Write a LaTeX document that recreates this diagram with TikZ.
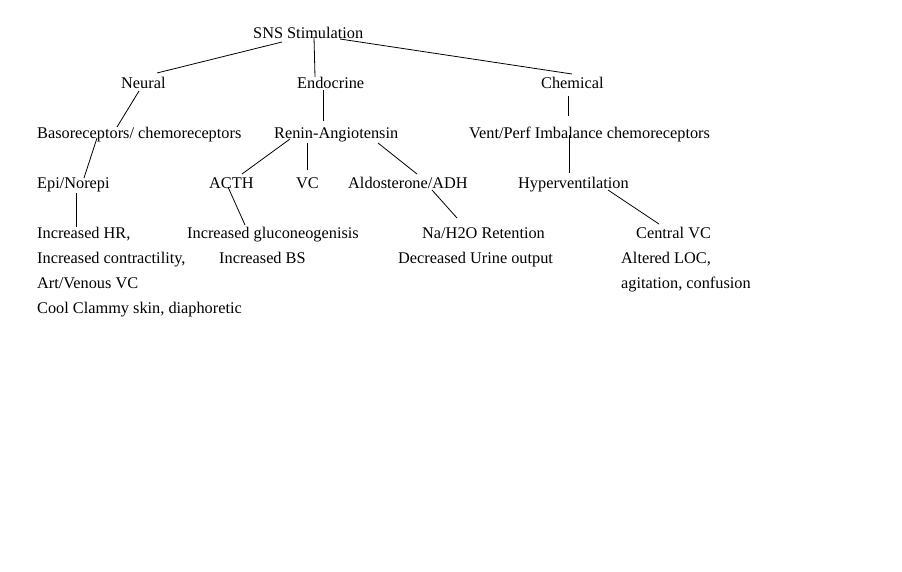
\documentclass[tikz,border=0pt]{standalone}
\usepackage{fontspec}
\setmainfont{Liberation Serif}
\usetikzlibrary{calc}
\begin{document}
\begin{tikzpicture}[x=1pt,y=-1pt,
  lbl/.style={anchor=base west,inner sep=0pt,font=\fontsize{16.3}{18}\selectfont},
  link/.style={line width=0.8pt,black}]
\useasboundingbox[fill=white] (0,0) rectangle (902,571);
% row 1
\node[lbl] (sns) at (253,38) {SNS Stimulation};
% row 2
\node[lbl] (neural) at (121,88) {Neural};
\node[lbl] (endo) at (297,88) {Endocrine};
\node[lbl] (chem) at (541,88) {Chemical};
% row 3
\node[lbl] (baso) at (37,138) {Basoreceptors/ chemoreceptors};
\node[lbl] (renin) at (274,138) {Renin-Angiotensin};
\node[lbl] (vent) at (469,138) {Vent/Perf Imbalance chemoreceptors};
% row 4
\node[lbl] (epi) at (37,188) {Epi/Norepi};
\node[lbl] (acth) at (209,188) {ACTH};
\node[lbl] (vc) at (296,188) {VC};
\node[lbl] (aldo) at (348,188) {Aldosterone/ADH};
\node[lbl] (hyper) at (518,188) {Hyperventilation};
% row 5+
\node[lbl] (hr) at (37,238) {Increased HR,};
\node[lbl] (contr) at (37,263) {Increased contractility,};
\node[lbl] (art) at (37,288) {Art/Venous VC};
\node[lbl] (cool) at (37,313) {Cool Clammy skin, diaphoretic};
\node[lbl] (gluco) at (187,238) {Increased gluconeogenisis};
\node[lbl] (bs) at (219,263) {Increased BS};
\node[lbl] (na) at (422,238) {Na/H2O Retention};
\node[lbl] (urine) at (398,263) {Decreased Urine output};
\node[lbl] (central) at (636,238) {Central VC};
\node[lbl] (loc) at (621,263) {Altered LOC,};
\node[lbl] (agit) at (621,288) {agitation, confusion};
% connectors
\draw[link] ($(sns.base west)+(29,4)$) -- ($(neural.base west)+(36,-15)$);
\draw[link] ($(sns.base west)+(61,-1)$) -- ($(endo.base west)+(18,-11)$);
\draw[link] ($(sns.base west)+(87,1)$) -- ($(chem.base west)+(31,-14)$);
\draw[link] ($(neural.base west)+(18,3)$) -- ($(baso.base west)+(80,-11)$);
\draw[link] ($(baso.base west)+(60,0)$) -- ($(epi.base west)+(47,-10)$);
\draw[link] ($(endo.base west)+(26,2)$) -- ($(renin.base west)+(49,-17)$);
\draw[link] ($(renin.base west)+(16,1)$) -- ($(acth.base west)+(33,-14)$);
\draw[link] ($(renin.base west)+(33,5)$) -- ($(vc.base west)+(11,-18)$);
\draw[link] ($(renin.base west)+(104,5)$) -- ($(aldo.base west)+(69,-14)$);
\draw[link] ($(epi.base west)+(39,5)$) -- ($(hr.base west)+(39,-11)$);
\draw[link] ($(acth.base west)+(19,-1)$) -- ($(gluco.base west)+(58,-13)$);
\draw[link] ($(aldo.base west)+(84,2)$) -- ($(na.base west)+(35,-20)$);
\draw[link] ($(chem.base west)+(27,8)$) -- ($(vent.base west)+(99,-22)$);
\draw[link] ($(vent.base west)+(100,-3)$) -- ($(hyper.base west)+(51,-15)$);
\draw[link] ($(hyper.base west)+(90,2)$) -- ($(central.base west)+(23,-14)$);
\end{tikzpicture}
\end{document}
